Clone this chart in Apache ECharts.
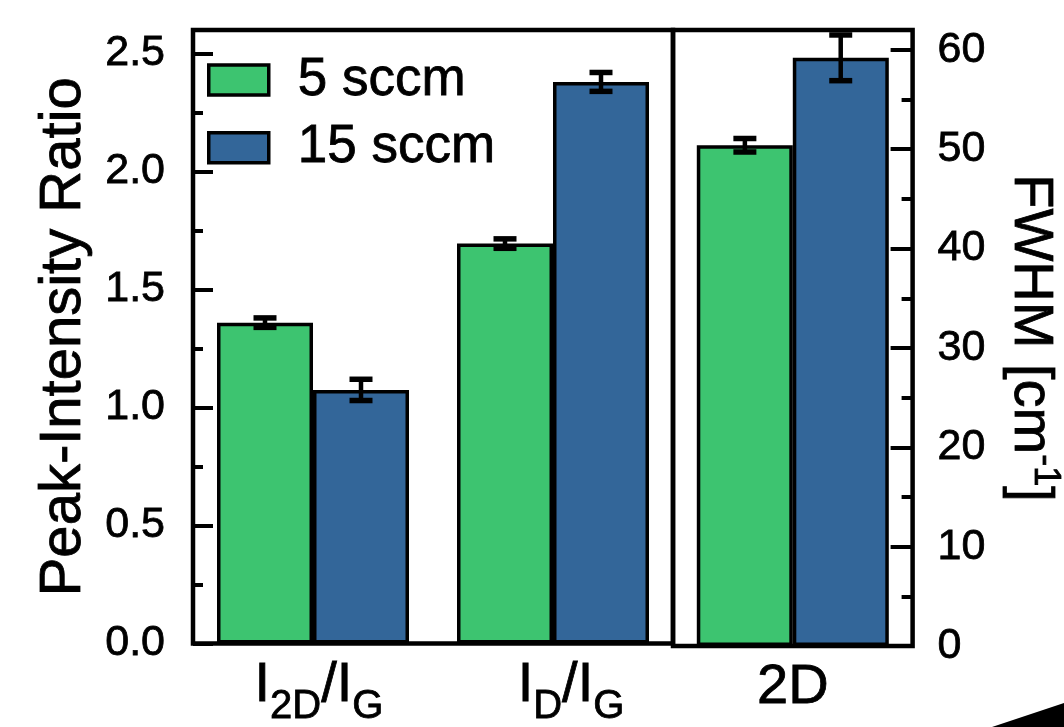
<!DOCTYPE html>
<html>
<head>
<meta charset="utf-8">
<title>Raman peak statistics</title>
<script src="https://cdn.jsdelivr.net/npm/echarts@6/dist/echarts.min.js"></script>
<style>
  html, body { margin: 0; padding: 0; background: #fff; }
  #chart { width: 1064px; height: 727px; }
</style>
</head>
<body>
<div id="chart"></div>
<script>
// Peak-intensity ratios (left panel) and 2D FWHM (right panel), two flow rates
const ratioCategories = ['I_2D/I_G', 'I_D/I_G'];
const fwhmCategories = ['2D'];
const seriesNames = ['5 sccm', '15 sccm'];

const ratio5 = [1.36, 1.695];
const ratio5Err = [0.02, 0.02];
const ratio15 = [1.075, 2.38];
const ratio15Err = [0.045, 0.04];

const fwhm5 = [50.4];
const fwhm5Err = [0.68];
const fwhm15 = [59.2];
const fwhm15Err = [2.3];

const ratioMajorTicks = [0, 0.5, 1.0, 1.5, 2.0, 2.5];
const ratioMinorTicks = [0.25, 0.75, 1.25, 1.75, 2.25];
const fwhmMajorTicks = [0, 10, 20, 30, 40, 50, 60];
const fwhmMinorTicks = [5, 15, 25, 35, 45, 55];

const GREEN = '#3dc470';
const BLUE = '#336699';
const FONT = "'Liberation Sans', Arial, Helvetica, sans-serif";

// slightly heavier glyphs for all chart text
const INK = { color: '#000', fontFamily: FONT, textBorderColor: '#000', textBorderWidth: 0.8 };

// "I_2D/I_G" -> rich text with subscripts
function toRich(label) {
  return label.split('/').map(function (part) {
    const m = part.match(/^(\w)_(\w+)$/);
    return m ? '{m|' + m[1] + '}{s|' + m[2] + '}' : '{m|' + part + '}';
  }).join('{m|/}');
}

// horizontal nudge (px) of the ratio category labels
const ratioLabelNudge = [6, 18];

function categoryLabel(nudges) {
  return {
    show: true,
    margin: 10,
    color: '#000',
    fontFamily: FONT,
    formatter: function (v, i) {
      const n = nudges ? nudges[i] || 0 : 0;
      return (n ? '{p' + n + '|}' : '') + toRich(v);
    },
    rich: Object.assign({
      m: Object.assign({ fontSize: 56, lineHeight: 64 }, INK),
      s: Object.assign({ fontSize: 40, lineHeight: 24, verticalAlign: 'top', padding: [33, 0, 0, 0] }, INK)
    }, (nudges || []).reduce(function (acc, n) {
      acc['p' + n] = { width: 2 * n, height: 10 };
      return acc;
    }, {}))
  };
}

function errorBarItem(slot) {
  return function (params, api) {
    const cat = api.value(0);
    const val = api.value(1);
    const err = api.value(2);
    const band = api.size([1, 0])[0];
    const hi = api.coord([cat, val + err]);
    const lo = api.coord([cat, val - err]);
    const x = hi[0] + slot * band * 0.2;
    const cap = 11.5;
    const stem = { stroke: '#000', lineWidth: 4.5 };
    const capStyle = { stroke: '#000', lineWidth: 5.5 };
    return {
      type: 'group',
      children: [
        { type: 'line', shape: { x1: x, y1: hi[1], x2: x, y2: lo[1] }, style: stem },
        { type: 'line', shape: { x1: x - cap, y1: hi[1], x2: x + cap, y2: hi[1] }, style: capStyle },
        { type: 'line', shape: { x1: x - cap, y1: lo[1], x2: x + cap, y2: lo[1] }, style: capStyle }
      ]
    };
  };
}

function errData(vals, errs) {
  return vals.map(function (v, i) { return [i, v, errs[i]]; });
}

function valueAxis(opts) {
  return Object.assign({
    type: 'value',
    axisLine: { show: false },
    splitLine: { show: false },
    axisTick: { show: false },
    axisLabel: { show: false }
  }, opts);
}

function barStyle(color) {
  return { color: color, borderColor: '#000', borderWidth: 3.5 };
}

const tickLine = { color: '#000', width: 4 };

const chart = echarts.init(document.getElementById('chart'), null, { renderer: 'canvas' });

chart.setOption({
  animation: false,
  backgroundColor: '#fff',
  textStyle: { fontFamily: FONT, color: '#000' },
  grid: [
    { left: 193, top: 30, width: 480, height: 616, show: true, borderColor: '#000', borderWidth: 4.5, backgroundColor: 'transparent' },
    { left: 673, top: 30, width: 241, height: 616, show: true, borderColor: '#000', borderWidth: 4.5, backgroundColor: 'transparent' }
  ],
  legend: {
    data: seriesNames,
    orient: 'vertical',
    left: 207,
    top: 53,
    padding: 0,
    itemWidth: 60,
    itemHeight: 30,
    itemGap: 14,
    icon: 'rect',
    itemStyle: { borderColor: '#000', borderWidth: 3.5 },
    textStyle: Object.assign({ fontSize: 53, padding: [0, 0, 0, 24] }, INK)
  },
  xAxis: [
    { type: 'category', gridIndex: 0, data: ratioCategories, axisLine: { show: false }, axisTick: { show: false }, axisLabel: categoryLabel(ratioLabelNudge) },
    { type: 'category', gridIndex: 1, data: fwhmCategories, axisLine: { show: false }, axisTick: { show: false }, axisLabel: categoryLabel(null) }
  ],
  yAxis: [
    valueAxis({
      gridIndex: 0, position: 'left', min: 0, max: 2.6,
      name: 'Peak-Intensity Ratio', nameLocation: 'middle', nameRotate: 90, nameGap: 100,
      nameTextStyle: Object.assign({ fontSize: 58 }, INK),
      axisTick: { show: true, inside: true, length: 20, customValues: ratioMajorTicks, lineStyle: tickLine },
      axisLabel: Object.assign({ show: true, margin: 28, fontSize: 43, customValues: ratioMajorTicks,
        formatter: function (v) { return v.toFixed(1); } }, INK)
    }),
    valueAxis({
      gridIndex: 0, position: 'left', min: 0, max: 2.6,
      axisTick: { show: true, inside: true, length: 10, customValues: ratioMinorTicks, lineStyle: tickLine }
    }),
    valueAxis({
      gridIndex: 1, position: 'right', min: 0, max: 62,
      name: 'FWHM [cm{sup|-1}]', nameLocation: 'middle', nameRotate: -90, nameGap: 86,
      nameTextStyle: Object.assign({ fontSize: 56, lineHeight: 64,
        rich: { sup: Object.assign({ fontSize: 36, lineHeight: 28, verticalAlign: 'top' }, INK) } }, INK),
      axisTick: { show: true, inside: true, length: 22, customValues: fwhmMajorTicks, lineStyle: tickLine },
      axisLabel: Object.assign({ show: true, margin: 25, fontSize: 43, customValues: fwhmMajorTicks }, INK)
    }),
    valueAxis({
      gridIndex: 1, position: 'right', min: 0, max: 62,
      axisTick: { show: true, inside: true, length: 11, customValues: fwhmMinorTicks, lineStyle: tickLine }
    })
  ],
  series: [
    { name: seriesNames[0], type: 'bar', xAxisIndex: 0, yAxisIndex: 0, data: ratio5, barWidth: 96, barGap: '0%', itemStyle: barStyle(GREEN) },
    { name: seriesNames[1], type: 'bar', xAxisIndex: 0, yAxisIndex: 0, data: ratio15, barWidth: 96, barGap: '0%', itemStyle: barStyle(BLUE) },
    { name: seriesNames[0], type: 'bar', xAxisIndex: 1, yAxisIndex: 2, data: fwhm5, barWidth: 96, barGap: '0%', itemStyle: barStyle(GREEN) },
    { name: seriesNames[1], type: 'bar', xAxisIndex: 1, yAxisIndex: 2, data: fwhm15, barWidth: 96, barGap: '0%', itemStyle: barStyle(BLUE) },
    { type: 'custom', xAxisIndex: 0, yAxisIndex: 0, renderItem: errorBarItem(-1), data: errData(ratio5, ratio5Err), encode: { x: 0, y: 1 }, z: 10 },
    { type: 'custom', xAxisIndex: 0, yAxisIndex: 0, renderItem: errorBarItem(1), data: errData(ratio15, ratio15Err), encode: { x: 0, y: 1 }, z: 10 },
    { type: 'custom', xAxisIndex: 1, yAxisIndex: 2, renderItem: errorBarItem(-1), data: errData(fwhm5, fwhm5Err), encode: { x: 0, y: 1 }, z: 10 },
    { type: 'custom', xAxisIndex: 1, yAxisIndex: 2, renderItem: errorBarItem(1), data: errData(fwhm15, fwhm15Err), encode: { x: 0, y: 1 }, z: 10 }
  ],
  graphic: [
    { type: 'polygon', shape: { points: [[992, 727], [1064, 703], [1064, 727]] }, style: { fill: '#000' }, silent: true }
  ]
});
</script>
</body>
</html>
